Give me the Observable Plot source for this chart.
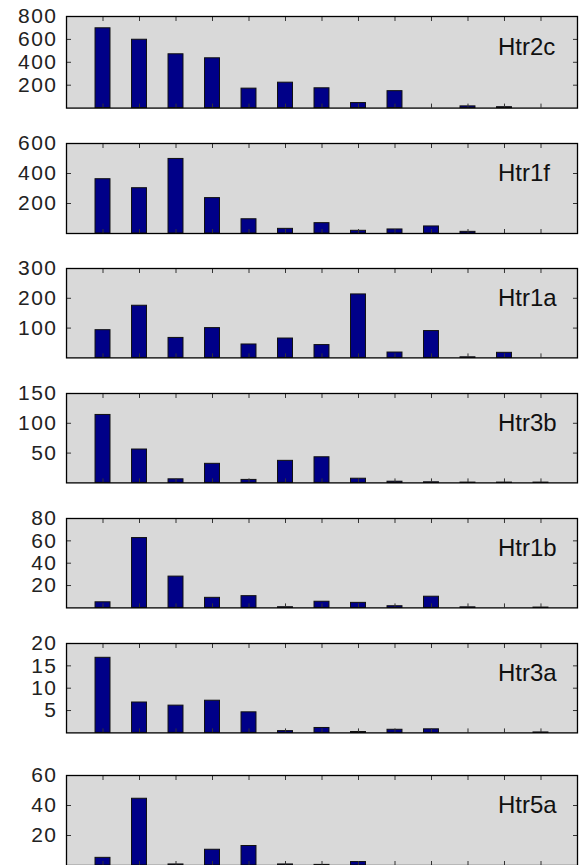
<!DOCTYPE html>
<html>
<head>
<meta charset="utf-8">
<script src="https://cdn.jsdelivr.net/npm/d3@7"></script>
<script src="https://cdn.jsdelivr.net/npm/@observablehq/plot@0.6"></script>
<style>
  html, body { margin: 0; padding: 0; background: #fff; }
  #chart { position: relative; width: 579px; height: 865px; overflow: hidden; }
  #chart svg { position: absolute; left: 0; }
  #chart g[aria-label="y-axis tick label"] { font-size: 21px; letter-spacing: 1.5px; }
</style>
</head>
<body>
<div id="chart"></div>
<script>
// ---- data ----
const positions = [1, 2, 3, 4, 5, 6, 7, 8, 9, 10, 11, 12, 13];
const genes = ["Htr2c", "Htr1f", "Htr1a", "Htr3b", "Htr1b", "Htr3a", "Htr5a"];
const htr2c = [697, 597, 470, 435, 170, 222, 173, 44, 148, 0, 15, 8, 0];
const htr1f = [362, 302, 497, 236, 95, 31, 69, 18, 27, 47, 11, 0, 0];
const htr1a = [93, 175, 67, 100, 45, 65, 43, 213, 18, 90, 2, 17, 0];
const htr3b = [114, 56, 6, 32, 5, 37, 43, 7, 2, 1, 0.5, 0.5, 0.5];
const htr1b = [5, 62.5, 28, 9, 10.5, 0.6, 5.5, 4.5, 1.5, 10, 0.5, 0, 0.3];
const htr3a = [16.8, 6.8, 6.1, 7.2, 4.6, 0.4, 1.1, 0.2, 0.7, 0.8, 0, 0, 0.1];
const htr5a = [5.1, 44.5, 0.7, 10.5, 13, 0.7, 0.4, 2.3, 0, 0, 0, 0, 0];
const yMax = [800, 600, 300, 150, 80, 20, 60];
const yTicks = [
  [200, 400, 600, 800],
  [200, 400, 600],
  [100, 200, 300],
  [50, 100, 150],
  [20, 40, 60, 80],
  [5, 10, 15, 20],
  [20, 40, 60]
];
const series = [htr2c, htr1f, htr1a, htr3b, htr1b, htr3a, htr5a];

// ---- layout ----
const frameTops = [15.7, 142.7, 268.3, 393.3, 518.3, 643.3, 775];
const frameHeights = [91.6, 90, 89.4, 89.4, 89.4, 89.4, 90];
const mt = 12, mb = 12;
const barHalf = 0.205;
const labelX = 11.82;

const container = document.getElementById("chart");

series.forEach((vals, i) => {
  const data = positions.map((p, j) => ({pos: p, value: vals[j]}));
  const plot = Plot.plot({
    width: 579,
    height: frameHeights[i] + mt + mb,
    marginLeft: 66,
    marginRight: 2,
    marginTop: mt,
    marginBottom: mb,
    style: {fontFamily: "'Liberation Sans', Arial, Helvetica, sans-serif", fontSize: "21px", color: "#222", background: "transparent", overflow: "visible"},
    x: {domain: [0, 14], axis: null, label: null},
    y: {domain: [0, yMax[i]], axis: null, label: null},
    marks: [
      Plot.frame({fill: "#d9d9d9", stroke: "none"}),
      Plot.rectY(data, {
        x1: d => d.pos - barHalf,
        x2: d => d.pos + barHalf,
        y: "value",
        fill: "#000088",
        stroke: "#111",
        strokeWidth: 1
      }),
      Plot.axisX({anchor: "top", ticks: positions, tickSize: -4, tickFormat: () => "", label: null, stroke: "#333"}),
      Plot.axisX({anchor: "bottom", ticks: positions, tickSize: -4, tickFormat: () => "", label: null, stroke: "#333"}),
      Plot.axisY({anchor: "left", ticks: yTicks[i], tickSize: -5, tickFormat: () => "", label: null, stroke: "#333"}),
      Plot.axisY({anchor: "right", ticks: yTicks[i], tickSize: -5, tickFormat: () => "", label: null, stroke: "#333"}),
      Plot.axisY({anchor: "left", ticks: yTicks[i], tickSize: 0, tickPadding: 9, label: null, fontSize: 21, fill: "#222"}),
      Plot.frame({stroke: "#000", strokeWidth: 1.3}),
      Plot.text([genes[i]], {
        x: () => labelX,
        y: () => yMax[i] * 2 / 3,
        text: d => d,
        textAnchor: "start",
        fontSize: 24,
        fill: "#111"
      })
    ]
  });
  plot.style.top = (frameTops[i] - mt) + "px";
  container.appendChild(plot);
});
</script>
</body>
</html>
